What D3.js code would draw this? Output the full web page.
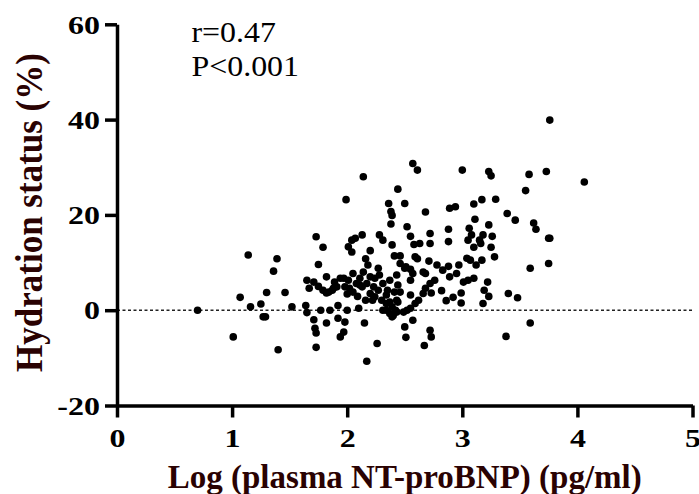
<!DOCTYPE html>
<html>
<head>
<meta charset="utf-8">
<script src="https://cdn.jsdelivr.net/npm/d3@7"></script>
<style>
  html, body { margin: 0; padding: 0; background: #fff; }
  svg { display: block; }
  text { font-family: "Liberation Serif", "Times New Roman", serif; }
</style>
</head>
<body>
<svg id="chart" width="699" height="494"></svg>
<script>
// log NT-proBNP (x) and hydration status % (y)
const logBNP = [
  0.70, 1.01, 1.07, 1.14, 1.16, 1.25, 1.27, 1.29, 1.30, 1.36, 1.39, 1.40, 1.46, 1.52,
  1.64, 1.65, 1.65, 1.71, 1.67, 1.71, 1.72, 1.73, 1.73, 1.75, 1.75, 1.77, 1.73, 1.79,
  1.82, 1.82, 1.82, 1.85, 1.87, 1.89, 1.92, 1.92, 1.94, 1.97, 1.98, 1.97, 2.00, 2.01,
  1.99, 1.94, 2.01, 1.98, 1.91, 1.79, 1.84, 1.88, 2.04, 2.07, 2.13, 2.14, 2.16, 2.20,
  2.05, 2.08, 2.11, 2.14, 2.18, 2.20, 2.24, 2.27, 2.11, 2.17, 2.23, 2.27, 2.31, 2.37,
  2.43, 2.44, 2.46, 2.20, 2.24, 2.30, 2.34, 2.39, 2.43, 2.34, 2.37, 2.39, 2.42, 2.46,
  2.50, 2.55, 2.57, 2.13, 2.10, 2.15, 2.26, 2.17, 2.31, 2.40, 2.43, 2.50, 2.51, 2.34,
  2.37, 2.44, 2.49, 2.52, 2.55, 2.57, 2.02, 2.04, 2.28, 2.31, 2.39, 2.41, 2.46, 2.36,
  2.50, 2.38, 2.39, 2.38, 2.44, 2.57, 2.61, 2.68, 2.52, 2.55, 2.58, 2.63, 2.59, 2.61,
  2.51, 2.55, 2.66, 2.68, 2.55, 2.59, 2.62, 2.72, 2.72, 2.71, 2.78, 2.72, 2.68, 2.66,
  2.73, 2.82, 2.72, 2.73, 2.67, 2.88, 2.88, 2.89, 2.94, 3.00, 2.83, 2.88, 2.89, 2.97,
  2.86, 2.92, 2.99, 2.99, 3.04, 3.01, 3.05, 3.10, 3.06, 3.08, 3.05, 3.15, 3.18, 3.26,
  3.16, 3.10, 3.25, 3.28, 3.17, 3.07, 3.12, 3.11, 3.23, 3.10, 3.17, 3.29, 3.23, 3.25,
  3.22, 3.19, 3.23, 3.18, 3.39, 3.46, 3.40, 3.48, 3.38, 3.58, 3.73, 3.76, 4.06, 3.55,
  3.62, 3.64, 3.75, 3.76, 3.59, 3.75, 3.59, 2.95, 2.76, 2.28, 2.35, 2.22, 2.09, 2.16,
  2.05, 2.00, 2.41
];
const hydration = [
  0.0, -5.6, 2.7, 11.6, 0.7, 1.3, -1.4, -1.4, 3.7, 8.2, 10.8, -8.3, 3.7, 0.7,
  1.0, -0.5, 6.3, 5.9, 4.6, -2.0, -3.8, -4.8, -7.8, 9.6, 5.0, 0.0, 15.4, 13.2,
  7.0, -2.7, 3.6, 0.0, 4.2, 5.9, 1.0, -1.7, -5.6, -4.6, -2.5, 6.7, 0.0, 13.3,
  23.2, 6.7, 6.3, 4.9, 4.9, 4.2, 3.8, 4.6, 12.2, 15.1, 15.8, 28.0, 10.8, 12.5,
  7.7, 5.6, 6.7, 8.0, 9.5, 7.0, 6.7, 8.8, 5.3, 5.6, 4.9, 4.2, 5.6, 6.3,
  7.4, 5.3, 3.8, 3.5, 2.8, 2.1, 1.4, 0.7, 2.1, 0.0, -0.7, -1.4, 0.0, 9.8,
  8.8, 6.3, 7.7, 4.9, 0.4, -2.7, -7.0, -10.7, 0.0, -1.1, -0.4, -3.5, -5.7, 3.2,
  1.7, 1.7, -0.4, 0.0, 0.4, -2.1, 4.6, 14.7, 15.8, 14.7, 13.7, 11.4, 11.4, 22.4,
  22.4, 20.7, 19.9, 18.1, 25.4, 30.8, 29.4, 20.6, 17.5, 15.5, 13.8, 14.0, 11.2, 10.8,
  9.1, 8.6, 8.0, 7.7, 3.2, 1.4, 2.1, 16.1, 14.0, 10.3, 9.5, 5.6, 4.6, 3.5,
  3.6, 4.1, -4.2, -5.6, -7.4, 17.0, 14.4, 21.4, 21.7, 29.4, 8.4, 9.2, 7.0, 9.5,
  2.0, 2.7, 3.6, 1.5, 10.9, 5.9, 6.3, 6.7, 17.2, 15.8, 14.7, 14.7, 15.8, 15.5,
  14.0, 13.2, 13.2, 11.2, 10.5, 10.5, 9.5, 19.1, 17.9, 22.3, 23.2, 23.3, 29.1, 28.2,
  5.9, 4.2, 2.9, 1.4, 20.3, 18.9, 3.5, 2.6, -5.5, 28.5, 29.1, 39.9, 26.9, 25.1,
  18.3, 17.0, 15.1, 15.1, 8.8, 9.8, -2.7, 7.7, 6.3, 7.4, 4.2, 2.1, 2.9, 2.1,
  3.8, 3.4, 3.8
];
const xTicks = [0, 1, 2, 3, 4, 5];
const yTicks = [-20, 0, 20, 40, 60];
const statLines = ['r=0.47', 'P<0.001'];
const xTitle = 'Log (plasma NT-proBNP) (pg/ml)';
const yTitle = 'Hydration status (%)';

const points = logBNP.map((v, i) => ({ x: v, y: hydration[i] }));

const svg = d3.select('#chart');
const x = d3.scaleLinear().domain([0, 5]).range([117, 692.5]);
const y = d3.scaleLinear().domain([-20, 60]).range([405.5, 24.3]);

const labelColor = '#2a0202';
const tickScale = 1.28;
const plainNum = d => String(d); // keep ascii hyphen for -20

// zero reference line
svg.append('line')
  .attr('x1', x(0)).attr('x2', x(5))
  .attr('y1', y(0)).attr('y2', y(0))
  .attr('stroke', '#222')
  .attr('stroke-width', 1.5)
  .attr('stroke-dasharray', '3,2.5');

// y axis
const gy = svg.append('g')
  .attr('transform', `translate(${x(0)},0)`)
  .call(d3.axisLeft(y).tickValues(yTicks).tickFormat(plainNum)
    .tickSize(12).tickPadding(5).tickSizeOuter(0));

// x axis
const gx = svg.append('g')
  .attr('transform', `translate(0,${y(-20)})`)
  .call(d3.axisBottom(x).tickValues(xTicks).tickFormat(plainNum)
    .tickSize(12).tickPadding(12).tickSizeOuter(0));

[gx, gy].forEach(g => {
  g.select('.domain').attr('stroke', '#000').attr('stroke-width', 3.5);
  g.selectAll('.tick line').attr('stroke', '#000').attr('stroke-width', 3.5);
  g.selectAll('.tick text')
    .attr('fill', '#000')
    .style('font-family', '"Liberation Serif", "Times New Roman", serif')
    .style('font-size', '25px')
    .style('font-weight', 'bold');
});

gy.selectAll('.tick text')
  .attr('x', -17 / tickScale)
  .attr('dy', '0.35em')
  .attr('transform', `scale(${tickScale},1)`);
gx.selectAll('.tick text')
  .attr('transform', `scale(${tickScale},1)`);

// dots
svg.append('g')
  .selectAll('circle')
  .data(points)
  .join('circle')
  .attr('cx', d => x(d.x))
  .attr('cy', d => y(d.y))
  .attr('r', 3.8)
  .attr('fill', '#000');

// stats text
svg.append('g')
  .selectAll('text')
  .data(statLines)
  .join('text')
  .attr('transform', (d, i) => `translate(191.5,${41.5 + i * 34.5}) scale(1.1,1)`)
  .style('font-size', '29px')
  .attr('fill', '#000')
  .text(d => d);

// axis titles
svg.append('text')
  .attr('x', (x(0) + x(5)) / 2)
  .attr('y', 488)
  .attr('text-anchor', 'middle')
  .style('font-size', '33px')
  .style('font-weight', 'bold')
  .attr('fill', labelColor)
  .text(xTitle);

svg.append('text')
  .attr('transform', `translate(42,212.5) scale(1.1,1) rotate(-90)`)
  .attr('text-anchor', 'middle')
  .style('font-size', '35px')
  .style('font-weight', 'bold')
  .attr('fill', labelColor)
  .text(yTitle);
</script>
</body>
</html>
